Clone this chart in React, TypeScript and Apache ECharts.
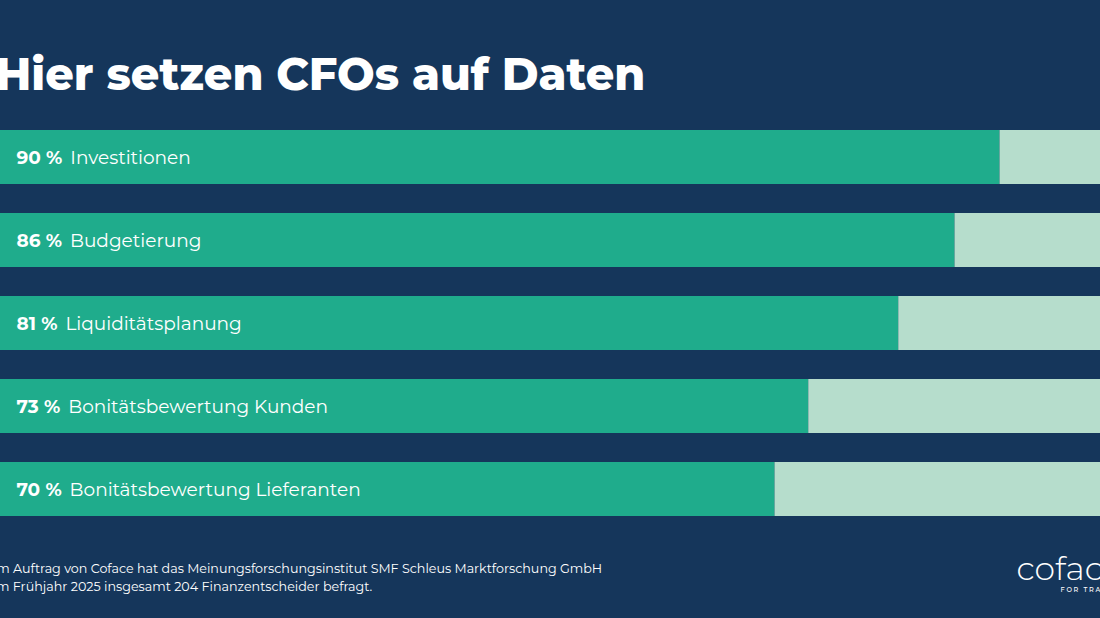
import React, { useEffect, useRef } from "react";
import * as echarts from "echarts";

const title = "Hier setzen CFOs auf Daten";
const categories = [
  "Investitionen",
  "Budgetierung",
  "Liquiditätsplanung",
  "Bonitätsbewertung Kunden",
  "Bonitätsbewertung Lieferanten",
];
const values = [90, 86, 81, 73, 70];
const footnoteLines = [
  "Im Auftrag von Coface hat das Meinungsforschungsinstitut SMF Schleus Marktforschung GmbH",
  "im Frühjahr 2025 insgesamt 204 Finanzentscheider befragt.",
];

const BG = "#15365b";
const GREEN = "#1fac8c";
const LIGHT = "#b6ddcc";
const FONT = "Montserrat, 'Open Sans', Inter, sans-serif";
const SHIFT = 13.5; // chart canvas extends past the left edge of the page
const OVER_RIGHT = 11.5; // and past the right edge

export default function App() {
  const ref = useRef<HTMLDivElement>(null);
  useEffect(() => {
    if (!ref.current) return;
    const chart = echarts.init(ref.current, null, { renderer: "svg" });
    const rest = values.map((v) => 100 - v);
    chart.setOption({
      animation: false,
      backgroundColor: BG,
      textStyle: { fontFamily: FONT },
      grid: { left: 0, right: 0, top: 115.5, bottom: 87.5, containLabel: false },
      xAxis: { type: "value", min: 0, max: 100, show: false },
      yAxis: {
        type: "category",
        data: categories,
        inverse: true,
        show: false,
      },
      series: [
        {
          type: "bar",
          stack: "a",
          data: values,
          barWidth: 54,
          itemStyle: { color: GREEN },
          label: {
            show: true,
            position: "insideLeft",
            distance: 29.5,
            formatter: (p: any) => `{b|${p.value} %}{n|${categories[p.dataIndex]}}`,
            rich: {
              b: { fontFamily: FONT, fontWeight: 700, fontSize: 18.5, color: "#ffffff", padding: [0, 8, 0, 0] },
              n: { fontFamily: FONT, fontWeight: 400, fontSize: 18.5, color: "#ffffff" },
            },
          },
        },
        {
          type: "bar",
          stack: "a",
          data: rest,
          barWidth: 54,
          itemStyle: { color: LIGHT },
        },
      ],
      graphic: [
        {
          type: "text",
          left: SHIFT - 5,
          top: 51.5,
          style: {
            text: title,
            fill: "#ffffff",
            font: `800 44.5px ${FONT}`,
          },
        },
        {
          type: "text",
          left: SHIFT - 8,
          top: 560,
          style: {
            text: footnoteLines.join("\n"),
            fill: "#ffffff",
            font: `400 12.7px ${FONT}`,
            lineHeight: 17.5,
          },
        },
        {
          type: "text",
          left: SHIFT + 1016,
          top: 551,
          style: {
            text: "coface",
            fill: "#ffffff",
            font: `300 33px ${FONT}`,
          },
        },
        {
          type: "text",
          left: SHIFT + 1060,
          top: 586,
          style: {
            text: "F O R   T R A D E",
            fill: "#ffffff",
            font: `500 6.5px ${FONT}`,
          },
        },
      ],
    });
    return () => chart.dispose();
  }, []);
  return (
    <div
      ref={ref}
      style={{ position: "fixed", left: -SHIFT, top: 0, width: 1100 + SHIFT + OVER_RIGHT, height: 618 }}
    />
  );
}
